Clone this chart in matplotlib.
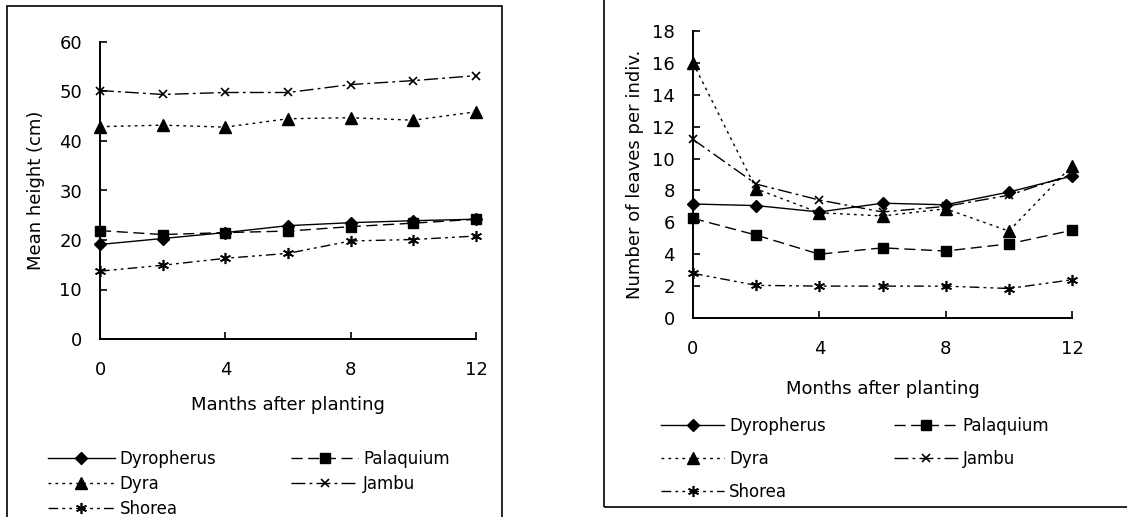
import numpy as np
import matplotlib
matplotlib.use('Agg')
import matplotlib.pyplot as plt
from matplotlib.patches import Rectangle

plt.rcParams['font.family'] = ['DejaVu Sans']

months = [0, 2, 4, 6, 8, 10, 12]
species = ['Dyropherus', 'Palaquium', 'Dyra', 'Jambu', 'Shorea']

# mean height (cm)
height_dyropherus = [19.1, 20.3, 21.5, 22.9, 23.5, 23.9, 24.2]
height_palaquium = [21.9, 21.1, 21.5, 21.8, 22.7, 23.4, 24.2]
height_dyra = [42.9, 43.2, 42.8, 44.5, 44.7, 44.2, 45.9]
height_jambu = [50.2, 49.4, 49.8, 49.8, 51.4, 52.2, 53.2]
height_shorea = [13.7, 14.9, 16.3, 17.3, 19.8, 20.1, 20.8]

# number of leaves per individual
leaves_dyropherus = [7.15, 7.05, 6.65, 7.2, 7.1, 7.9, 8.9]
leaves_palaquium = [6.25, 5.2, 4.0, 4.4, 4.2, 4.65, 5.5]
leaves_dyra = [16.0, 8.1, 6.6, 6.4, 6.85, 5.45, 9.55]
leaves_jambu = [11.2, 8.4, 7.4, 6.65, 7.0, 7.7, 9.0]
leaves_shorea = [2.8, 2.05, 2.0, 2.0, 2.0, 1.85, 2.4]

heights = [height_dyropherus, height_palaquium, height_dyra, height_jambu, height_shorea]
leaves = [leaves_dyropherus, leaves_palaquium, leaves_dyra, leaves_jambu, leaves_shorea]

styles = [
    dict(ls='-', marker='D', ms=6),
    dict(ls=(0, (8, 4)), marker='s', ms=7),
    dict(ls=(0, (2, 3)), marker='^', ms=8),
    dict(ls=(0, (10, 3, 2, 3)), marker='x', ms=6, mew=1.2),
    dict(ls=(0, (7, 3, 2, 3, 2, 3)), marker=(6, 2, 0), ms=8, mew=1.2),
]

W, H = 1127, 517
fig = plt.figure(figsize=(W / 100, H / 100), dpi=100)

def px(x0, y0, x1, y1):
    return [x0 / W, 1 - y1 / H, (x1 - x0) / W, (y1 - y0) / H]

def style_axes(ax, fs):
    for s in ['top', 'right']:
        ax.spines[s].set_visible(False)
    for s in ['left', 'bottom']:
        ax.spines[s].set_linewidth(1.4)
    ax.set_xlim(0, 12)
    ax.set_xticks([0, 4, 8, 12])
    ax.tick_params(direction='in', length=5, width=1.2, labelsize=fs)
    ax.tick_params(axis='x', pad=16)
    ax.tick_params(axis='y', pad=13)

def draw(ax, data):
    handles = []
    for name, vals, st in zip(species, data, styles):
        h, = ax.plot(months, vals, color='black', lw=1.0, label=name,
                     clip_on=False, **st)
        handles.append(h)
    return handles

# left panel
ax1 = fig.add_axes(px(100, 42, 476, 339))
h1 = draw(ax1, heights)
style_axes(ax1, 13)
ax1.set_ylim(0, 60)
ax1.set_yticks(np.arange(0, 61, 10))
ax1.set_ylabel('Mean height (cm)', fontsize=13, labelpad=10)
ax1.set_xlabel('Manths after planting', fontsize=13, labelpad=12)

# right panel
ax2 = fig.add_axes(px(693, 31, 1072, 318))
h2 = draw(ax2, leaves)
style_axes(ax2, 13)
ax2.set_ylim(0, 18)
ax2.set_yticks(np.arange(0, 19, 2))
ax2.set_ylabel('Number of leaves per indiv.', fontsize=13, labelpad=6)
ax2.set_xlabel('Months after planting', fontsize=13, labelpad=16)

order = [0, 2, 4, 1, 3]
fig.legend([h1[i] for i in order], [species[i] for i in order], ncol=2,
           loc='upper left', bbox_to_anchor=(33 / W, 1 - 435 / H),
           frameon=False, fontsize=12, handlelength=4.0, numpoints=1,
           columnspacing=4.5, labelspacing=0.42, handletextpad=0.3)
fig.legend([h2[i] for i in order], [species[i] for i in order], ncol=2,
           loc='upper left', bbox_to_anchor=(646 / W, 1 - 402 / H),
           frameon=False, fontsize=12, handlelength=3.8, numpoints=1,
           columnspacing=4.1, labelspacing=0.9, handletextpad=0.3)

# panel frames
fig.add_artist(Rectangle((7 / W, -0.1), 495 / W, 1.1 - 6 / H, fill=False,
                         lw=1.2, ec='black', transform=fig.transFigure, clip_on=False))
fig.add_artist(Rectangle((604 / W, 10 / H), 0.6, 1.2, fill=False,
                         lw=1.2, ec='black', transform=fig.transFigure, clip_on=False))

fig.savefig('out.png', dpi=100)
